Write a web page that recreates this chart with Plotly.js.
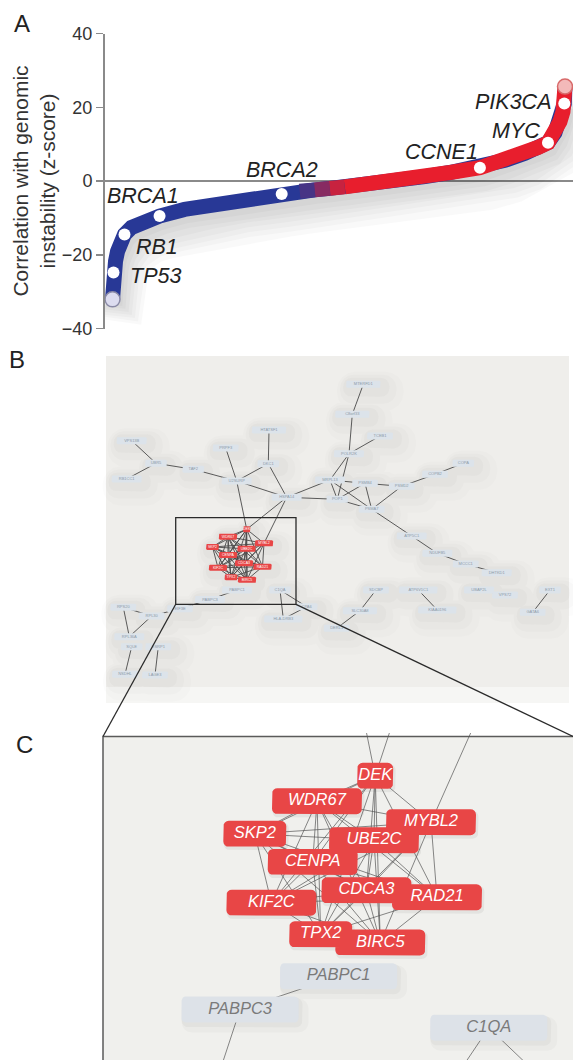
<!DOCTYPE html>
<html><head><meta charset="utf-8">
<script src="https://cdn.plot.ly/plotly-3.0.1.min.js"></script>
<style>html,body{margin:0;padding:0;background:#fff}#chart{width:573px;height:1060px}</style>
</head><body><div id="chart"></div>
<script>
// ---------------- Panel A data ----------------
const curveRank = [1.71,1.71,1.92,2.35,2.78,3.42,4.27,5.77,8.55,11.75,17.09,22.44,28.85,37.82,41.67,44.87,48.08,51.28,57.69,63.03,68.38,73.72,80.13,85.47,89.74,92.52,94.66,96.15,97.22,97.86,98.14,98.29];
const curveZ    = [-32.1,-28.3,-24.8,-21.8,-19.1,-16.7,-14.5,-12.6,-10.7,-9.5,-7.7,-6.5,-5.0,-3.5,-2.8,-2.4,-2.0,-1.6,-0.7,0.1,1.2,2.3,3.6,5.6,7.5,9.1,10.4,13.1,16.1,18.8,21.0,25.6];
const geneNames = ['TP53','RB1','BRCA1','BRCA2','CCNE1','MYC','PIK3CA'];
const geneRank  = [1.92,4.27,11.75,37.82,80.13,94.66,98.14];
const geneZ     = [-24.8,-14.5,-9.5,-3.5,3.6,10.4,21.0];
const yTicks    = [-40,-20,0,20,40];

// ---------------- Panel B data (network) ----------------
const clusterGenes = ['DEK','WDR67','MYBL2','SKP2','UBE2C','CENPA','CDCA3','RAD21','KIF2C','TPX2','BIRC5'];
const bNodeNames = ['HTATSF1','VPS13B','PRPF3','UBR5','DKC1','TAF2','RB1CC1','U2SURP','HSPA14','MTERFD1','C8orf33','TCEB1','POLR2K','COPA','COPB2','MRPL13','PSMB4','PSMD2','POP1','PSMA7','ATP5C1','NDUFB5','MCCC1','DHTKD1','SDCBP','ATP6V1C1','UBAP2L','VPS72','EXT1','SLC30A8','KIAA0196','GATA6','DERL1','PABPC1','PABPC3','C1QA','EIF3E','HLA-DRB3','CPA6','RPS20','RPL30','RPL36A','SQLE','ESRP1','NSDHL','LAGE3','DEK','WDR67','MYBL2','SKP2','UBE2C','CENPA','CDCA3','RAD21','KIF2C','TPX2','BIRC5'];
const bNodeX = [269,131.7,225.7,156,268.3,193.3,126.7,236.7,286.7,363.3,352.3,380,349,463.3,435,330,365,401.7,337.3,371.7,411.7,437.3,465.7,496.7,376,418.3,479,505,550,360,437.3,532.7,336.7,237,210,280,180,283.3,306.7,123.3,151.7,129.3,131.7,158.3,125,155,246.7,228,264,212.5,246.5,228,244,262.5,218,231,247];
const bNodeY = [430,440.7,448,463.3,463.7,469.3,479,481,497.3,384.3,414.3,436,453.7,463.3,474.3,480,483.3,486.3,499.3,509.3,536,553.3,564,572.7,590,590,590,595,590,610.7,610,612.3,628.3,590,599.5,590,608.7,619,606.7,607.3,616,636.7,646.7,646.7,674.3,675,529.3,536.7,543.3,547,548.8,555,563.3,566.7,567.8,577.3,579.8];
const bEdges = [['VPS13B','UBR5'],['RB1CC1','UBR5'],['UBR5','TAF2'],['TAF2','U2SURP'],['PRPF3','U2SURP'],['U2SURP','DKC1'],['HTATSF1','DKC1'],['DKC1','HSPA14'],['U2SURP','HSPA14'],['U2SURP','DEK'],['HSPA14','DEK'],['HSPA14','MYBL2'],['HSPA14','POP1'],['HSPA14','MRPL13'],['MTERFD1','C8orf33'],['C8orf33','POLR2K'],['TCEB1','POLR2K'],['POLR2K','MRPL13'],['POLR2K','POP1'],['MRPL13','POP1'],['MRPL13','PSMB4'],['MRPL13','PSMA7'],['PSMB4','PSMA7'],['PSMB4','PSMD2'],['PSMD2','PSMA7'],['PSMD2','COPB2'],['COPB2','COPA'],['POP1','PSMB4'],['POP1','PSMA7'],['PSMA7','ATP5C1'],['ATP5C1','NDUFB5'],['NDUFB5','MCCC1'],['MCCC1','DHTKD1'],['SDCBP','SLC30A8'],['SLC30A8','DERL1'],['ATP6V1C1','KIAA0196'],['UBAP2L','VPS72'],['EXT1','GATA6'],['RPS20','RPL30'],['RPS20','RPL36A'],['RPL30','RPL36A'],['RPL30','EIF3E'],['SQLE','NSDHL'],['ESRP1','LAGE3'],['PABPC1','PABPC3'],['PABPC3','EIF3E'],['C1QA','HLA-DRB3'],['C1QA','CPA6'],['HLA-DRB3','CPA6']];

// ---------------- Panel C data (zoomed cluster) ----------------
const cNodeNames = ['DEK','WDR67','MYBL2','SKP2','UBE2C','CENPA','CDCA3','RAD21','KIF2C','TPX2','BIRC5','PABPC1','PABPC3','C1QA'];
const cNodeX = [375.2,317,431,254.8,374,312.7,366.4,437,271.4,320.7,380.3,338.6,240.1,488.8];
const cNodeY = [775.8,801.2,822.2,833.8,840.2,862,890.3,897.3,902.7,934.3,942.5,976.3,1009.5,1027.8];
const cOffNames = ['U2SURP','DKC1','HSPA14','EIF3E','HLA-DRB3','CPA6'];
const cOffX = [351.5,414,488,207,420,575];
const cOffY = [658.5,658.5,694,1110,1130,1110];
const cEdges = [['DEK','U2SURP'],['DEK','DKC1'],['MYBL2','HSPA14'],['PABPC1','PABPC3'],['PABPC3','EIF3E'],['C1QA','HLA-DRB3'],['C1QA','CPA6']];

// zoom window (panel B coordinates) and panel C frame
const zoomBox = {x0:175.7, x1:296, y0:517.7, y1:604.3};
const cFrame  = {x0:103, y0:736.5, x1:574, y1:1080};

// ---------------- helpers ----------------
const FONT = 'Liberation Sans, Arial, Helvetica, sans-serif';
const BLUE = [40,56,150], RED = [232,30,45];
function mix(t){ const c = BLUE.map((b,i)=>Math.round(b+(RED[i]-b)*t)); return `rgb(${c[0]},${c[1]},${c[2]})`; }
function clamp(v){ return Math.max(0, Math.min(1, v)); }
const gradStart = 41.7, gradEnd = 51.3;

function roundRect(cx, cy, w, h, r, xs, ys){
  const x0=cx-w/2, x1=cx+w/2, y0=cy-h/2, y1=cy+h/2;
  const corners = [[x1-r,y0+r,-Math.PI/2],[x1-r,y1-r,0],[x0+r,y1-r,Math.PI/2],[x0+r,y0+r,Math.PI]];
  corners.forEach(([ccx,ccy,a0])=>{
    for(let k=0;k<=4;k++){ const a=a0+k*(Math.PI/2)/4; xs.push(ccx+r*Math.cos(a)); ys.push(ccy+r*Math.sin(a)); }
  });
  xs.push(xs[xs.length-20]); ys.push(ys[ys.length-20]);
  xs.push(null); ys.push(null);
}
function boxTrace(xs, ys, color, xa, ya){
  return {x:xs, y:ys, mode:'lines', fill:'toself', fillcolor:color, line:{width:0, color:color}, hoverinfo:'skip', showlegend:false, xaxis:xa, yaxis:ya};
}
function edgeTrace(edges, pos, color, width, xa, ya){
  const xs=[], ys=[];
  edges.forEach(([a,b])=>{ const p=pos[a], q=pos[b]; if(!p||!q) return; xs.push(p[0],q[0],null); ys.push(p[1],q[1],null); });
  return {x:xs, y:ys, mode:'lines', line:{color:color, width:width}, hoverinfo:'skip', showlegend:false, xaxis:xa, yaxis:ya};
}
function cliqueEdges(list){ const e=[]; for(let i=0;i<list.length;i++) for(let j=i+1;j<list.length;j++) e.push([list[i],list[j]]); return e; }
const isCluster = n => clusterGenes.indexOf(n) >= 0;
function redWidth(name){ return name.length<=3 ? 36 : (name.length===4 ? 63 : 90); }

const traces = [];

// ---------------- Panel A traces ----------------
for(let k=0;k<7;k++){
  traces.push({x:curveRank.map(v=>v+0.4+0.25*k), y:curveZ.map(v=>v-1.6-0.75*k), mode:'lines',
    line:{color:'rgba(0,0,0,0.022)', width:16+4*k}, hoverinfo:'skip', showlegend:false, xaxis:'x', yaxis:'y'});
}
traces.push({x:curveRank, y:curveZ, mode:'lines', line:{color:mix(0), width:15}, hoverinfo:'skip', showlegend:false, xaxis:'x', yaxis:'y'});
const redIdx = curveRank.findIndex(v=>v>=gradEnd-0.1);
traces.push({x:curveRank.slice(redIdx), y:curveZ.slice(redIdx), mode:'lines', line:{color:mix(1), width:15}, hoverinfo:'skip', showlegend:false, xaxis:'x', yaxis:'y'});
for(let i=0;i<curveRank.length-1;i++){
  const mid=(curveRank[i]+curveRank[i+1])/2;
  if(curveRank[i] >= gradStart-0.1 && curveRank[i] < gradEnd-0.1){
    const t = clamp((mid-gradStart)/(gradEnd-gradStart));
    traces.push({x:[curveRank[i],curveRank[i+1]], y:[curveZ[i],curveZ[i+1]], mode:'lines', line:{color:mix(t), width:15}, hoverinfo:'skip', showlegend:false, xaxis:'x', yaxis:'y'});
  }
}
const nC = curveRank.length-1;
traces.push({x:[curveRank[0]], y:[curveZ[0]], mode:'markers', marker:{size:15, color:'#dcdcef', line:{color:'#8a8aa6', width:1.5}}, hoverinfo:'skip', showlegend:false, cliponaxis:false, xaxis:'x', yaxis:'y'});
traces.push({x:[curveRank[nC]], y:[curveZ[nC]], mode:'markers', marker:{size:15, color:'#f3b9b9', line:{color:'#d86a6a', width:1.5}}, hoverinfo:'skip', showlegend:false, cliponaxis:false, xaxis:'x', yaxis:'y'});
traces.push({x:geneRank, y:geneZ, mode:'markers', marker:{size:12, color:'#ffffff'}, hoverinfo:'text', text:geneNames, showlegend:false, cliponaxis:false, xaxis:'x', yaxis:'y'});

const labelShift = {TP53:[42,-4], RB1:[32,-13], BRCA1:[-17,20], BRCA2:[0,24], CCNE1:[-38,16], MYC:[-32,12], PIK3CA:[-51,2]};

// ---------------- Panel B traces ----------------
const bPos = {}; bNodeNames.forEach((n,i)=>{ bPos[n]=[bNodeX[i], bNodeY[i]]; });
function bW(n){ return isCluster(n) ? redWidth(n)/4.9 : 5+4.2*n.length; }
function bH(n){ return isCluster(n) ? 6 : 7; }
[[16,7,'rgba(120,120,120,0.025)'],[11,5,'rgba(120,120,120,0.03)'],[6,3,'rgba(110,110,110,0.035)']].forEach(([grow,off,col])=>{
  const xs=[], ys=[];
  bNodeNames.forEach((n,i)=>{
    const w=bW(n), h=bH(n);
    roundRect(bNodeX[i]+off, bNodeY[i]+off, w+2*grow, h+2*grow, (h+2*grow)/2.2, xs, ys);
  });
  traces.push(boxTrace(xs, ys, col, 'x2', 'y2'));
});
traces.push(edgeTrace(bEdges.concat(cliqueEdges(clusterGenes)), bPos, '#4a4a4a', 0.9, 'x2', 'y2'));
{
  const gx=[], gy=[], rx=[], ry=[];
  bNodeNames.forEach((n,i)=>{
    if(isCluster(n)) roundRect(bNodeX[i], bNodeY[i], bW(n), bH(n), 1.3, rx, ry);
    else roundRect(bNodeX[i], bNodeY[i], bW(n), bH(n), 1.3, gx, gy);
  });
  traces.push(boxTrace(gx, gy, '#dce3ea', 'x2', 'y2'));
  traces.push(boxTrace(rx, ry, '#e84646', 'x2', 'y2'));
  const gi = bNodeNames.map((n,i)=>i).filter(i=>!isCluster(bNodeNames[i]));
  const ri = bNodeNames.map((n,i)=>i).filter(i=>isCluster(bNodeNames[i]));
  traces.push({x:gi.map(i=>bNodeX[i]), y:gi.map(i=>bNodeY[i]), text:gi.map(i=>bNodeNames[i]), mode:'text', textfont:{family:FONT, size:4, color:'#8d9aa8'}, hoverinfo:'skip', showlegend:false, xaxis:'x2', yaxis:'y2'});
  traces.push({x:ri.map(i=>bNodeX[i]), y:ri.map(i=>bNodeY[i]), text:ri.map(i=>bNodeNames[i]), mode:'text', textfont:{family:FONT, size:3.5, color:'#ffffff'}, hoverinfo:'skip', showlegend:false, xaxis:'x2', yaxis:'y2'});
}

// ---------------- Panel C traces ----------------
const cPos = {}; cNodeNames.forEach((n,i)=>{ cPos[n]=[cNodeX[i], cNodeY[i]]; }); cOffNames.forEach((n,i)=>{ cPos[n]=[cOffX[i], cOffY[i]]; });
{
  const sx=[], sy=[], gx1=[], gy1=[], gx2=[], gy2=[];
  cNodeNames.forEach((n,i)=>{
    if(isCluster(n)) roundRect(cNodeX[i]+1.5, cNodeY[i]+2.5, redWidth(n)+2, 28, 6, sx, sy);
    else { roundRect(cNodeX[i]+2, cNodeY[i]+3, 121, 30, 7, gx1, gy1); roundRect(cNodeX[i]+5, cNodeY[i]+6, 127, 34, 10, gx2, gy2); }
  });
  traces.push(boxTrace(gx2, gy2, 'rgba(0,0,0,0.025)', 'x3', 'y3'));
  traces.push(boxTrace(gx1, gy1, 'rgba(0,0,0,0.03)', 'x3', 'y3'));
  traces.push(boxTrace(sx, sy, 'rgba(0,0,0,0.05)', 'x3', 'y3'));
}
traces.push(edgeTrace(cliqueEdges(clusterGenes).concat(cEdges), cPos, '#555555', 0.7, 'x3', 'y3'));
{
  const gx=[], gy=[], rx=[], ry=[];
  cNodeNames.forEach((n,i)=>{
    if(isCluster(n)) roundRect(cNodeX[i], cNodeY[i], redWidth(n), 26, 5.5, rx, ry);
    else roundRect(cNodeX[i], cNodeY[i], 117, 26, 4, gx, gy);
  });
  traces.push(boxTrace(gx, gy, '#dde2e8', 'x3', 'y3'));
  traces.push(boxTrace(rx, ry, '#e84646', 'x3', 'y3'));
  const gi = cNodeNames.map((n,i)=>i).filter(i=>!isCluster(cNodeNames[i]));
  const ri = cNodeNames.map((n,i)=>i).filter(i=>isCluster(cNodeNames[i]));
  traces.push({x:ri.map(i=>cNodeX[i]), y:ri.map(i=>cNodeY[i]), text:ri.map(i=>cNodeNames[i]), mode:'text', textfont:{family:FONT, size:16.5, color:'#ffffff', style:'italic'}, hoverinfo:'skip', showlegend:false, cliponaxis:false, xaxis:'x3', yaxis:'y3'});
  traces.push({x:gi.map(i=>cNodeX[i]), y:gi.map(i=>cNodeY[i]), text:gi.map(i=>cNodeNames[i]), mode:'text', textfont:{family:FONT, size:16.5, color:'#7a7a7a', style:'italic'}, hoverinfo:'skip', showlegend:false, cliponaxis:false, xaxis:'x3', yaxis:'y3'});
}

// ---------------- Layout ----------------
const W=573, H=1060;
const annotations = geneNames.map((g,i)=>({
  x:geneRank[i], y:geneZ[i], xref:'x', yref:'y', text:g, showarrow:false,
  xshift:labelShift[g][0], yshift:labelShift[g][1], xanchor:'center', yanchor:'middle',
  font:{family:FONT, size:21.5, color:'#222', style:'italic'}
}));
[['A',22,23],['B',17,360],['C',24,744]].forEach(([t,px,py])=>{
  annotations.push({x:px/W, y:1-py/H, xref:'paper', yref:'paper', text:t, showarrow:false, xanchor:'center', yanchor:'middle', font:{family:FONT, size:24, color:'#222'}});
});

const shapes = [
  {type:'rect', xref:'x2', yref:'y2', x0:106, x1:569, y0:356, y1:687, fillcolor:'#efeeeb', line:{width:0}, layer:'below'},
  {type:'rect', xref:'x2', yref:'y2', x0:106, x1:569, y0:687, y1:703, fillcolor:'#f6f6f4', line:{width:0}, layer:'below'},
  {type:'rect', xref:'x2', yref:'y2', x0:cFrame.x0, x1:cFrame.x1, y0:cFrame.y0, y1:cFrame.y1, fillcolor:'#f0f0ed', line:{color:'#5a5a5a', width:1.5}, layer:'below'},
  {type:'rect', xref:'x2', yref:'y2', x0:zoomBox.x0, x1:zoomBox.x1, y0:zoomBox.y0, y1:zoomBox.y1, line:{color:'#2a2a2a', width:1.3}, layer:'above'},
  {type:'line', xref:'x2', yref:'y2', x0:zoomBox.x0, y0:zoomBox.y1, x1:cFrame.x0, y1:cFrame.y0, line:{color:'#2a2a2a', width:1.3}, layer:'above'},
  {type:'line', xref:'x2', yref:'y2', x0:zoomBox.x1, y0:zoomBox.y1, x1:573, y1:cFrame.y0, line:{color:'#2a2a2a', width:1.3}, layer:'above'}
];

const layout = {
  width:W, height:H, margin:{l:0,r:0,t:0,b:0}, paper_bgcolor:'#ffffff', plot_bgcolor:'rgba(0,0,0,0)',
  showlegend:false, font:{family:FONT, color:'#222'},
  xaxis:{domain:[104.5/W,1], range:[0,100], showgrid:false, zeroline:false, showticklabels:false, showline:false, ticks:'', fixedrange:true},
  yaxis:{domain:[1-328.5/H, 1-33.5/H], range:[-40,40], tickvals:yTicks, showgrid:false, zeroline:true, zerolinecolor:'#8a8a8a', zerolinewidth:1.5,
         showline:true, linecolor:'#8a8a8a', linewidth:1.5, ticks:'outside', ticklen:7, tickcolor:'#8a8a8a', tickwidth:1.5,
         tickfont:{family:FONT, size:18, color:'#333'}, automargin:false,
         title:{text:'Correlation with genomic<br>instability (z-score)', font:{family:FONT, size:21, color:'#333'}, standoff:0}},
  xaxis2:{domain:[0,1], range:[0,W], visible:false, anchor:'y2', fixedrange:true},
  yaxis2:{domain:[0,1], range:[H,0], visible:false, anchor:'x2', fixedrange:true},
  xaxis3:{domain:[100/W,1], range:[100,W], visible:false, anchor:'y3', fixedrange:true},
  yaxis3:{domain:[0,1-733/H], range:[H,733], visible:false, anchor:'x3', fixedrange:true},
  annotations:annotations, shapes:shapes
};
Plotly.newPlot('chart', traces, layout, {displayModeBar:false, staticPlot:true});
</script></body></html>
